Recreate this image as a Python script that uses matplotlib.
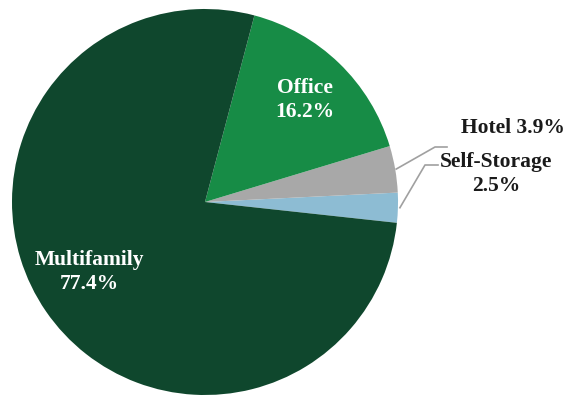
import numpy as np
import matplotlib.pyplot as plt

# Loan composition by property type
labels = ['Self-Storage', 'Hotel', 'Office', 'Multifamily']
shares = [2.5, 3.9, 16.2, 77.4]
colors = ['#8dbcd3', '#a8a8a8', '#178c46', '#0f472d']

W, H = 568, 398
fig = plt.figure(figsize=(W / 100, H / 100), dpi=100)
ax = fig.add_axes([0, 0, 1, 1])

cx, cy, r = 205, H - 202, 193
wedges, _ = ax.pie(shares, colors=colors, startangle=-6.2, counterclock=True,
                   center=(cx, cy), radius=r, frame=True,
                   wedgeprops=dict(linewidth=0))
ax.set_xlim(0, W)
ax.set_ylim(0, H)
ax.axis('off')

font = dict(family=['Liberation Serif', 'DejaVu Serif'], fontweight='bold', fontsize=15.5)

# labels inside the two big slices
ax.text(305, H - 100, f'{labels[2]}\n{shares[2]}%', color='white', ha='center',
        va='center', linespacing=1.25, **font)
ax.text(89, H - 272, f'{labels[3]}\n{shares[3]}%', color='white', ha='center',
        va='center', linespacing=1.25, **font)

# leader lines for the two small slices
def edge_point(w):
    mid = np.deg2rad((w.theta1 + w.theta2) / 2)
    return cx + r * np.cos(mid), cy + r * np.sin(mid)

hx, hy = edge_point(wedges[1])
ax.plot([hx + 1, 435, 447], [hy, H - 147, H - 147], color='#a0a0a0', lw=1.2)
sx, sy = edge_point(wedges[0])
ax.plot([sx + 2, 425, 438], [sy, H - 165, H - 165], color='#a0a0a0', lw=1.2)

ax.text(513, H - 128, f'{labels[1]} {shares[1]}%', color='#1a1a1a', ha='center',
        va='center', **font)
ax.text(496, H - 174, f'{labels[0]}\n{shares[0]}%', color='#1a1a1a', ha='center',
        va='center', linespacing=1.25, **font)

fig.savefig('out.png', dpi=100)
